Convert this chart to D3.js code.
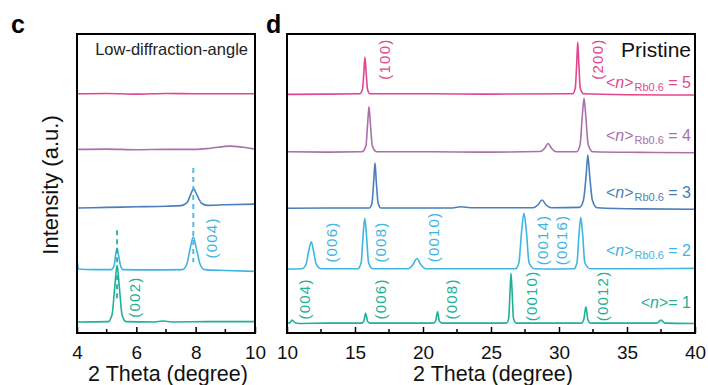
<!DOCTYPE html>
<html>
<head>
<meta charset="utf-8">
<script src="https://cdn.jsdelivr.net/npm/d3@7"></script>
<style>
  body { margin: 0; background: #fff; }
  svg { font-family: "Liberation Sans", Arial, Helvetica, sans-serif; }
</style>
</head>
<body>
<svg id="chart" width="708" height="385"></svg>
<script>
// ---- data (2θ in degree, intensity in stacked a.u.) ----
const colors = { n5: "#e2478d", n4: "#a871a9", n3: "#4a7fbb", n2: "#3fb5e5", n1: "#1eb196" };

// panel c: low-angle scans
const cN5 = [[4,80],[5,80.1],[6,79.9],[7,80.1],[8,80],[9,80],[10,80]];
const cN4 = [[4,61.4],[5,61.5],[6,61.3],[7,61.4],[8,61.4],[8.5,61.8],[9.15,62.5],[9.6,62.1],[10,61.5]];
const cN3 = [[4,41.8],[5,42],[6,42.2],[7,42.4],[7.5,42.6],[7.7,43.5],[7.82,46],[7.93,48.2],[8.05,46],[8.2,43.4],[8.4,42.7],[9,42.9],[10,43.1]];
const cN2 = [[4,25],[4.05,21.4],[4.6,21.2],[5.15,21.2],[5.25,22.5],[5.3,26],[5.35,28.4],[5.4,26],[5.47,22.5],[5.55,21.2],[6.5,21.1],[7.55,21.2],[7.7,23],[7.82,28.5],[7.92,32.1],[8.02,28.5],[8.15,23],[8.3,21.2],[9,20.9],[10,20.6]];
const cN1 = [[4,3.7],[5.05,3.8],[5.18,6],[5.27,15],[5.35,22.7],[5.43,15],[5.52,6],[5.65,3.8],[6.6,3.7],[6.9,4.0],[7.2,3.7],[8.5,3.8],[10,3.8]];

// panel d: wide-angle scans
const dN5 = [[10,79.8],[13,79.9],[15.35,80],[15.55,81.5],[15.65,87],[15.73,92.3],[15.82,87],[15.92,81.5],[16.1,80],[20,80],[25,79.9],[31.0,80],[31.2,82],[31.3,90],[31.38,97.3],[31.46,90],[31.56,82],[31.8,80],[35,79.7],[40,79.6]];
const dN4 = [[10,60.6],[13,60.5],[15.5,60.6],[15.8,62.5],[15.93,70],[16.03,75.7],[16.13,70],[16.28,62.5],[16.6,60.6],[20,60.6],[25,60.5],[28.6,60.7],[28.95,61.8],[29.2,63.4],[29.45,61.8],[29.8,60.6],[31.3,60.6],[31.55,63],[31.72,73],[31.84,78.5],[31.96,73],[32.15,63],[32.5,60.6],[36,60.4],[40,60.3]];
const dN3 = [[10,41.7],[13,41.8],[16.05,41.8],[16.25,43.5],[16.38,51],[16.47,56.9],[16.56,51],[16.7,43.5],[16.9,41.8],[20,41.8],[22,41.8],[22.8,42.2],[23.5,41.9],[28.1,41.9],[28.45,42.8],[28.75,44.5],[29.05,42.8],[29.45,41.9],[31.5,42],[31.8,44.5],[32.0,53],[32.12,59.5],[32.25,53],[32.45,44.5],[32.8,41.9],[36,41.5],[40,41.4]];
const dN2 = [[10,21.4],[11.1,21.5],[11.4,23],[11.6,27.5],[11.78,30.5],[11.95,27.5],[12.15,23],[12.5,21.5],[15.2,21.5],[15.45,23.5],[15.6,33],[15.72,38.4],[15.84,33],[16.0,23.5],[16.3,21.5],[18.9,21.5],[19.25,22.8],[19.55,24.9],[19.85,22.8],[20.2,21.5],[23,21.5],[26.8,21.5],[27.05,23.5],[27.25,34],[27.42,40],[27.6,34],[27.8,23.5],[28.2,21.5],[29.5,21.4],[31.1,21.5],[31.32,23.5],[31.48,33.5],[31.6,38.7],[31.73,33.5],[31.9,23.5],[32.3,21.5],[36,21.5],[40,21.6]];
const dN1 = [[10,3.3],[10.2,3.4],[10.38,4.3],[10.6,3.4],[10.9,3.2],[13,3.3],[15.5,3.3],[15.65,4],[15.78,6.6],[15.92,4],[16.1,3.3],[18,3.3],[20.75,3.3],[20.93,4],[21.07,7.1],[21.2,4],[21.4,3.3],[24,3.3],[26.15,3.3],[26.3,5],[26.4,14],[26.47,20],[26.55,14],[26.65,5],[26.85,3.3],[29,3.3],[31.65,3.3],[31.82,4.5],[31.98,8.8],[32.12,4.5],[32.3,3.3],[35,3.3],[37.2,3.3],[37.5,4.3],[37.8,3.3],[40,3.2]];

const cSeries = [["n5", cN5], ["n4", cN4], ["n3", cN3], ["n2", cN2], ["n1", cN1]];
const dSeries = [["n5", dN5], ["n4", dN4], ["n3", dN3], ["n2", dN2], ["n1", dN1]];

// peak index labels: [text, 2θ, intensity, series]
const cPeakLabels = [["(002)", 5.95, 12, "n1"], ["(004)", 8.55, 31.8, "n2"]];
const dPeakLabels = [
  ["(100)", 17.2, 91.6, "n5"], ["(200)", 32.8, 91.6, "n5"],
  ["(006)", 13.3, 30.4, "n2"], ["(008)", 16.85, 30.4, "n2"], ["(0010)", 20.75, 32.1, "n2"],
  ["(0014)", 28.8, 31.1, "n2"], ["(0016)", 30.2, 31.1, "n2"],
  ["(004)", 11.3, 11.4, "n1"], ["(006)", 16.85, 11.4, "n1"], ["(008)", 22.1, 11.4, "n1"],
  ["(0010)", 28.0, 12.4, "n1"], ["(0012)", 33.2, 12.4, "n1"]
];
// dashed guide lines in panel c: [2θ, from, to, series]
const cGuides = [[5.35, 34.4, 11.0, "n1"], [7.92, 55.2, 23.7, "n2"]];
// series names on the right of panel d: [n, intensity of text baseline, series, rb subscript]
const seriesNames = [["5", 82.0, "n5", true], ["4", 64.2, "n4", true], ["3", 45.2, "n3", true], ["2", 25.8, "n2", true], ["1", 8.4, "n1", false]];

const cTicks = [4, 6, 8, 10], cMinor = [5, 7, 9];
const dTicks = [10, 15, 20, 25, 30, 35, 40], dMinor = [12.5, 17.5, 22.5, 27.5, 32.5, 37.5];

// ---- drawing ----
const svg = d3.select("#chart");
const plotTop = 34, plotBottom = 333;
const y = d3.scaleLinear().domain([0, 100]).range([plotBottom, plotTop]);

function panel(x0, x1, domain, series, ticks, minor, labels) {
  const x = d3.scaleLinear().domain(domain).range([x0, x1]);
  const g = svg.append("g");

  const line = d3.line().x(d => x(d[0])).y(d => y(d[1])).curve(d3.curveMonotoneX);
  g.selectAll(".trace").data(series).enter().append("path")
    .attr("d", d => line(d[1]))
    .attr("fill", "none")
    .attr("stroke", d => colors[d[0]])
    .attr("stroke-width", 1.6);

  g.selectAll(".peak").data(labels).enter().append("text")
    .attr("transform", d => `translate(${x(d[1])},${y(d[2])}) rotate(-90)`)
    .attr("text-anchor", "middle")
    .attr("dominant-baseline", "central")
    .attr("font-size", 15)
    .attr("letter-spacing", 1.2)
    .attr("fill", d => colors[d[3]])
    .text(d => d[0]);

  // ticks inside, pointing up
  const axis = d3.axisBottom(x).tickValues(ticks).tickSize(-6).tickPadding(13).tickFormat(d3.format("d"));
  const ax = g.append("g").attr("transform", `translate(0,${plotBottom})`).call(axis);
  ax.select(".domain").remove();
  ax.selectAll("line").attr("stroke", "#000").attr("stroke-width", 1.5);
  ax.selectAll("text").attr("font-size", 19).attr("fill", "#111")
    .attr("font-family", "Liberation Sans, Arial, sans-serif");
  g.selectAll(".minor").data(minor).enter().append("line")
    .attr("x1", d => x(d)).attr("x2", d => x(d))
    .attr("y1", plotBottom).attr("y2", plotBottom - 4)
    .attr("stroke", "#000").attr("stroke-width", 1.5);

  g.append("rect")
    .attr("x", x0).attr("y", plotTop)
    .attr("width", x1 - x0).attr("height", plotBottom - plotTop)
    .attr("fill", "none").attr("stroke", "#000").attr("stroke-width", 2);

  g.append("text")
    .attr("x", (x0 + x1) / 2 + 2).attr("y", 381)
    .attr("text-anchor", "middle")
    .attr("font-size", 21.5).attr("fill", "#111")
    .text("2 Theta (degree)");
  return x;
}

const xc = panel(77, 255, [4, 10], cSeries, cTicks, cMinor, cPeakLabels);
const xd = panel(287, 695, [10, 40], dSeries, dTicks, dMinor, dPeakLabels);

svg.selectAll(".guide").data(cGuides).enter().append("line")
  .attr("x1", d => xc(d[0])).attr("x2", d => xc(d[0]))
  .attr("y1", d => y(d[1])).attr("y2", d => y(d[2]))
  .attr("stroke", d => colors[d[3]])
  .attr("stroke-width", 2)
  .attr("stroke-dasharray", "5 4")
  .attr("opacity", 0.9);

svg.append("text").attr("x", 248).attr("y", 55).attr("text-anchor", "end")
  .attr("font-size", 16.5).attr("fill", "#222").text("Low-diffraction-angle");

svg.append("text").attr("x", 691).attr("y", 57).attr("text-anchor", "end")
  .attr("font-size", 21).attr("fill", "#111").text("Pristine");

// series names: <n>_Rb0.6 = k
const names = svg.selectAll(".sname").data(seriesNames).enter().append("text")
  .attr("x", 691).attr("y", d => y(d[1]))
  .attr("text-anchor", "end")
  .attr("font-size", 16)
  .attr("fill", d => colors[d[2]]);
names.append("tspan").text("<");
names.append("tspan").attr("font-style", "italic").text("n");
names.append("tspan").text(">");
names.filter(d => d[3]).append("tspan").attr("font-size", 11).attr("dy", 3).attr("dx", 1).text("Rb0.6");
names.append("tspan").attr("dy", d => d[3] ? -3 : 0).text(d => (d[3] ? " = " : "= ") + d[0]);

svg.append("text")
  .attr("transform", "translate(58,185) rotate(-90)")
  .attr("text-anchor", "middle")
  .attr("font-size", 22).attr("fill", "#111")
  .text("Intensity (a.u.)");

svg.append("text").attr("x", 11).attr("y", 33).attr("font-size", 25).attr("font-weight", "bold").text("c");
svg.append("text").attr("x", 266).attr("y", 33).attr("font-size", 25).attr("font-weight", "bold").text("d");
</script>
</body>
</html>
